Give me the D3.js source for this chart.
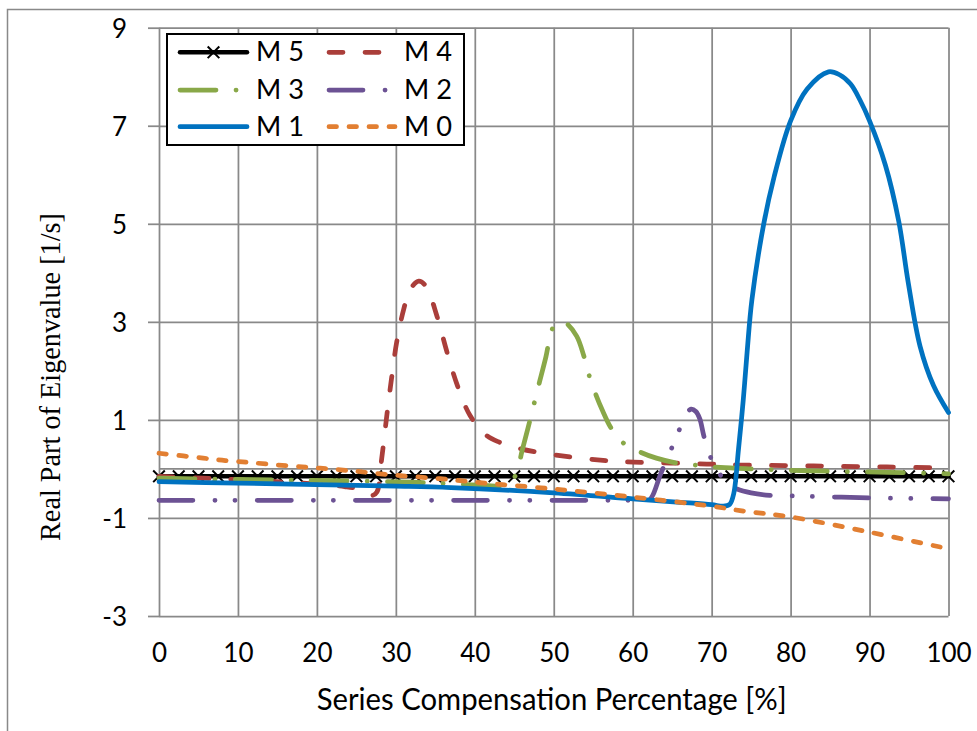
<!DOCTYPE html>
<html><head><meta charset="utf-8">
<script src="https://cdn.jsdelivr.net/npm/d3@7"></script>
<style>body{margin:0;background:#fff;} svg{display:block;}</style>
</head><body>
<svg id="chart" width="977" height="731"></svg>
<script>
// ---------- DATA ----------
const xTickValues = [0, 10, 20, 30, 40, 50, 60, 70, 80, 90, 100];
const yTickValues = [-3, -1, 1, 3, 5, 7, 9];
const xAxisTitle = "Series Compensation Percentage [%]";
const yAxisTitle = "Real Part of Eigenvalue [1/s]";
const seriesNames = ["M 5", "M 4", "M 3", "M 2", "M 1", "M 0"];

const m5X = [0, 2.5, 5, 7.5, 10, 12.5, 15, 17.5, 20, 22.5, 25, 27.5, 30, 32.5, 35, 37.5, 40, 42.5, 45, 47.5, 50,
             52.5, 55, 57.5, 60, 62.5, 65, 67.5, 70, 72.5, 75, 77.5, 80, 82.5, 85, 87.5, 90, 92.5, 95, 97.5, 100];
const m5Y = [-0.15, -0.15, -0.15, -0.15, -0.15, -0.15, -0.15, -0.15, -0.15, -0.15, -0.15, -0.15, -0.15, -0.15,
             -0.15, -0.15, -0.15, -0.15, -0.15, -0.15, -0.15, -0.15, -0.15, -0.15, -0.15, -0.15, -0.15, -0.15,
             -0.15, -0.15, -0.15, -0.15, -0.15, -0.15, -0.15, -0.15, -0.15, -0.15, -0.15, -0.15, -0.15];

const m4X = [0, 5.6, 10, 15, 20, 23.5, 25.5, 27, 27.6, 28.2, 28.9, 29.5, 30.1, 31.0, 31.8, 32.9, 33.8, 35.2, 36.5,
             37.8, 39.4, 41.5, 43.2, 45.8, 50.8, 55.9, 60.1, 64.8, 69.4, 73.6, 82.9, 92.2, 100];
const m4Y = [-0.15, -0.19, -0.22, -0.26, -0.31, -0.36, -0.42, -0.54, -0.47, 0.2, 1.15, 1.9, 2.58, 3.26, 3.66, 3.83,
             3.73, 3.12, 2.37, 1.7, 1.09, 0.68, 0.54, 0.41, 0.27, 0.18, 0.14, 0.12, 0.1, 0.08, 0.06, 0.04, 0.02];

const m3X = [0, 12, 22, 32, 36.4, 41.7, 44, 45.2, 46, 47, 48, 49, 49.8, 50.6, 51.5, 52.9, 53.8, 54.4, 55.3, 56.2,
             57.2, 58.8, 61, 63, 65.6, 67.9, 71.1, 75, 82.8, 92.4, 100];
const m3Y = [-0.19, -0.22, -0.24, -0.27, -0.3, -0.34, -0.34, -0.12, 0.38, 1.0, 1.65, 2.28, 2.85, 3.0, 2.98, 2.71,
             2.31, 1.95, 1.53, 1.18, 0.85, 0.53, 0.34, 0.22, 0.12, 0.08, 0.03, 0.0, -0.04, -0.07, -0.1];

const m2X = [0, 20, 40, 60, 62, 62.5, 63.5, 64.8, 65.8, 66.8, 67.4, 68, 68.5, 69, 69.8, 71.1, 72, 73.2, 75, 77.4,
             80, 90, 100];
const m2Y = [-0.64, -0.64, -0.64, -0.64, -0.64, -0.55, -0.12, 0.37, 0.76, 1.12, 1.22, 1.17, 1.02, 0.68, 0.26,
             -0.12, -0.3, -0.41, -0.49, -0.54, -0.55, -0.59, -0.61];

const m1X = [0, 10, 20, 30, 37, 50, 60, 66, 70, 71.5, 72.3, 72.8, 73.4, 74.0, 74.5, 75.1, 76.6, 77.9, 80, 82.1,
             84.8, 86.2, 87.6, 88.8, 90, 92, 93.7, 94.9, 96.4, 98.1, 100];
const m1Y = [-0.26, -0.29, -0.32, -0.35, -0.38, -0.49, -0.61, -0.68, -0.73, -0.76, -0.72, -0.5, 0.4, 1.4, 2.4,
             3.45, 5.0, 5.95, 7.1, 7.75, 8.1, 8.04, 7.85, 7.52, 7.1, 6.2, 5.05, 3.8, 2.5, 1.7, 1.15];

const m0X = [0, 5.6, 8.4, 11, 13.6, 18.7, 23.8, 29.3, 35.6, 40, 50, 60, 70, 73.6, 80, 90, 100];
const m0Y = [0.32, 0.22, 0.17, 0.14, 0.1, 0.035, -0.03, -0.12, -0.2, -0.27, -0.41, -0.575, -0.76, -0.85, -0.98,
             -1.29, -1.63];

// ---------- STYLES ----------
const styles = [
  {color: "#000000", dash: null, width: 4.5, marker: true},
  {color: "#AA3E3A", dash: "14,22", width: 4.75},
  {color: "#89A848", dash: "36,20,0.1,20", width: 4.75},
  {color: "#6C5294", dash: "34,22,0.1,20,0.1,22", width: 4.75},
  {color: "#0072C0", dash: null, width: 4.75},
  {color: "#E27F32", dash: "7.5,12.5", width: 4.75}
];
const seriesData = [[m5X, m5Y], [m4X, m4Y], [m3X, m3Y], [m2X, m2Y], [m1X, m1Y], [m0X, m0Y]];

// ---------- CHART ----------
const svg = d3.select("#chart");
const x = d3.scaleLinear().domain([0, 100]).range([159, 948.5]);
const y = d3.scaleLinear().domain([-3, 9]).range([616, 27.7]);
const gridColor = "#898989";

// outer border (only top & left visible)
svg.append("rect").attr("x", 7.5).attr("y", 9.5).attr("width", 1000).attr("height", 1000)
  .attr("fill", "#fff").attr("stroke", gridColor).attr("stroke-width", 1.5);

// vertical gridlines
svg.append("g").attr("transform", `translate(0,${y(-3)})`)
  .call(d3.axisBottom(x).tickValues(xTickValues).tickSize(-(y(-3) - y(9))).tickFormat(""))
  .call(g => g.select(".domain").remove())
  .selectAll("line").attr("stroke", gridColor).attr("stroke-width", 1.75);

// horizontal gridlines (incl. bottom at -3)
svg.append("g").attr("transform", `translate(${x(0)},0)`)
  .call(d3.axisLeft(y).tickValues(yTickValues).tickSize(-(x(100) - x(0))).tickFormat(""))
  .call(g => g.select(".domain").remove())
  .selectAll("line").attr("stroke", gridColor).attr("stroke-width", 1.75);

// horizontal axis line crossing at 0
svg.append("line").attr("x1", x(0)).attr("x2", x(100)).attr("y1", y(0)).attr("y2", y(0))
  .attr("stroke", gridColor).attr("stroke-width", 1.75);

// y axis ticks and labels
const yAx = svg.append("g").attr("transform", `translate(${x(0)},0)`)
  .call(d3.axisLeft(y).tickValues(yTickValues).tickSize(11).tickPadding(21).tickFormat(d => String(d)));
yAx.select(".domain").remove();
yAx.selectAll("line").attr("stroke", gridColor).attr("stroke-width", 1.75);
yAx.selectAll("text").attr("font-family", "Lato, 'Open Sans', sans-serif").attr("font-size", 26)
  .attr("fill", "#000").attr("dy", "0.36em");

// x axis labels
const xAx = svg.append("g").attr("transform", `translate(0,${y(-3)})`)
  .call(d3.axisBottom(x).tickValues(xTickValues).tickSize(0).tickFormat(d => String(d)));
xAx.select(".domain").remove();
xAx.selectAll("text").attr("font-family", "Lato, 'Open Sans', sans-serif").attr("font-size", 26)
  .attr("fill", "#000").attr("y", 46).attr("dy", 0);

// axis titles
svg.append("text").text(xAxisTitle)
  .attr("x", 551.7).attr("y", 710).attr("text-anchor", "middle")
  .attr("font-family", "Lato, 'Open Sans', sans-serif").attr("font-size", 30)
  .attr("textLength", 470).attr("lengthAdjust", "spacingAndGlyphs").attr("fill", "#000");

svg.append("text").text(yAxisTitle)
  .attr("transform", "translate(60,377) rotate(-90)").attr("text-anchor", "middle")
  .attr("font-family", "'Liberation Serif', 'Times New Roman', serif").attr("font-size", 30)
  .attr("textLength", 328).attr("lengthAdjust", "spacingAndGlyphs").attr("fill", "#000");

// series lines
const line = d3.line().x(d => x(d[0])).y(d => y(d[1])).curve(d3.curveCatmullRom.alpha(0.5));
const plot = svg.append("g");
seriesData.forEach(([xs, ys], i) => {
  const pts = xs.map((v, j) => [v, ys[j]]);
  const st = styles[i];
  const p = plot.append("path").datum(pts).attr("d", line)
    .attr("fill", "none").attr("stroke", st.color).attr("stroke-width", st.width)
    .attr("stroke-linecap", "round").attr("stroke-linejoin", "round");
  if (st.dash) p.attr("stroke-dasharray", st.dash);
  if (st.marker) {
    plot.append("g").selectAll("path").data(pts).join("path")
      .attr("d", d3.symbol(d3.symbolX, 90)())
      .attr("transform", d => `translate(${x(d[0])},${y(d[1])})`)
      .attr("stroke", "#000").attr("stroke-width", 2).attr("fill", "none");
  }
});

// legend
const lg = svg.append("g");
lg.append("rect").attr("x", 167).attr("y", 34).attr("width", 297).attr("height", 111)
  .attr("fill", "#fff").attr("stroke", "#000").attr("stroke-width", 2);
const legCols = [{x1: 180, x2: 247, tx: 256}, {x1: 329, x2: 395, tx: 404}];
const legRows = [52.3, 90, 126.7];
seriesNames.forEach((name, i) => {
  const c = legCols[i % 2], r = legRows[Math.floor(i / 2)], st = styles[i];
  const l = lg.append("line").attr("x1", c.x1).attr("x2", c.x2).attr("y1", r).attr("y2", r)
    .attr("stroke", st.color).attr("stroke-width", st.width).attr("stroke-linecap", "round");
  if (st.dash) l.attr("stroke-dasharray", st.dash);
  if (st.marker) {
    lg.append("path").attr("d", d3.symbol(d3.symbolX, 90)())
      .attr("transform", `translate(${(c.x1 + c.x2) / 2},${r})`)
      .attr("stroke", "#000").attr("stroke-width", 2).attr("fill", "none");
  }
  lg.append("text").text(name).attr("x", c.tx).attr("y", r + 9)
    .attr("font-family", "Lato, 'Open Sans', sans-serif").attr("font-size", 26)
    .attr("textLength", 48).attr("lengthAdjust", "spacingAndGlyphs").attr("fill", "#000");
});
</script>
</body></html>
